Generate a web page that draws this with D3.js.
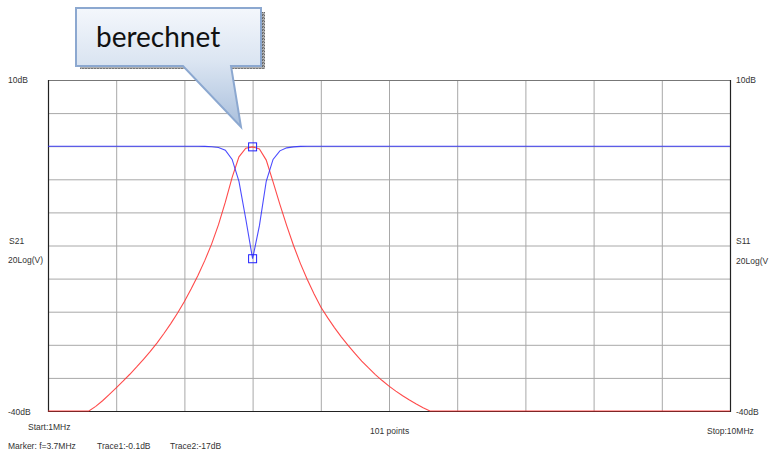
<!DOCTYPE html>
<html>
<head>
<meta charset="utf-8">
<script src="https://cdn.jsdelivr.net/npm/d3@7"></script>
<style>
  body { margin: 0; background: #fff; }
  svg { display: block; }
  .lbl { font-family: "Liberation Sans", Arial, sans-serif; font-size: 8.5px; fill: #333; }
  .grid line { stroke: #a8a8a8; stroke-width: 1; }
  .grid path { display: none; }
</style>
</head>
<body>
<svg id="chart" width="769" height="455"></svg>
<script>
// sweep: 1MHz .. 10MHz, 101 points
var START_MHZ = 1;
var STOP_MHZ = 10;
var NUM_POINTS = 101;

var xTicks = [1, 1.9, 2.8, 3.7, 4.6, 5.5, 6.4, 7.3, 8.2, 9.1, 10];
var yTicks = [10, 5, 0, -5, -10, -15, -20, -25, -30, -35, -40];

// Trace1: S21 in dB (values below -40 shown on the bottom line)
var s21 = [
  -40, -40, -40, -40, -40, -40, -40, -39.3, -38.45, -37.5,
  -36.5, -35.5, -34.45, -33.35, -32.2, -31.0, -29.7, -28.3, -26.8, -25.2,
  -23.45, -21.55, -19.5, -17.25, -14.75, -11.85, -8.45, -4.7, -1.6, -0.3,
  -0.1, -0.4, -2.1, -5.4, -8.8, -12.0, -15.0, -17.7, -20.1, -22.3,
  -24.3, -25.9, -27.4, -28.8, -30.1, -31.3, -32.45, -33.5, -34.5, -35.4,
  -36.25, -37.0, -37.7, -38.35, -38.95, -39.5, -40, -40, -40, -40,
  -40, -40, -40, -40, -40, -40, -40, -40, -40, -40,
  -40, -40, -40, -40, -40, -40, -40, -40, -40, -40,
  -40, -40, -40, -40, -40, -40, -40, -40, -40, -40,
  -40, -40, -40, -40, -40, -40, -40, -40, -40, -40,
  -40
];

// Trace2: S11 in dB
var s11 = [
  0, 0, 0, 0, 0, 0, 0, 0, 0, 0,
  0, 0, 0, 0, 0, 0, 0, 0, 0, 0,
  0, 0, 0, -0.03, -0.08, -0.2, -0.6, -2.0, -5.3, -11,
  -17, -12, -5.3, -2.0, -0.7, -0.25, -0.1, -0.03, 0, 0,
  0, 0, 0, 0, 0, 0, 0, 0, 0, 0,
  0, 0, 0, 0, 0, 0, 0, 0, 0, 0,
  0, 0, 0, 0, 0, 0, 0, 0, 0, 0,
  0, 0, 0, 0, 0, 0, 0, 0, 0, 0,
  0, 0, 0, 0, 0, 0, 0, 0, 0, 0,
  0, 0, 0, 0, 0, 0, 0, 0, 0, 0,
  0
];

var markerF = 3.7;
var markerIdx = 30;

var L = 48, R = 730, T = 80, B = 411;

var svg = d3.select('#chart');

var x = d3.scaleLinear().domain([START_MHZ, STOP_MHZ]).range([L, R]);
var y = d3.scaleLinear().domain([-40, 10]).range([B, T]).clamp(true);

var step = (STOP_MHZ - START_MHZ) / (NUM_POINTS - 1);
function freqAt (i) { return START_MHZ + i * step; }

// grid
svg.append('g')
  .attr('class', 'grid')
  .attr('transform', 'translate(0,' + B + ')')
  .call(d3.axisBottom(x).tickValues(xTicks.slice(1, -1)).tickSize(-(B - T)).tickFormat(''));

svg.append('g')
  .attr('class', 'grid')
  .attr('transform', 'translate(' + L + ',0)')
  .call(d3.axisLeft(y).tickValues(yTicks.slice(1, -1)).tickSize(-(R - L)).tickFormat(''));

// frame
svg.append('line').attr('x1', L).attr('x2', R).attr('y1', T + 0.5).attr('y2', T + 0.5)
  .attr('stroke', '#777').attr('stroke-width', 1.2);
svg.append('path')
  .attr('d', 'M' + (L + 0.5) + ',' + T + 'V' + (B + 0.5) + 'H' + (R + 0.5) + 'V' + T)
  .attr('fill', 'none').attr('stroke', '#222').attr('stroke-width', 1.2);

// traces
var line = d3.line()
  .x(function (d, i) { return x(freqAt(i)); })
  .y(function (d) { return y(d); });

svg.append('path').datum(s21)
  .attr('d', line)
  .attr('fill', 'none')
  .attr('stroke', '#ff2a2a')
  .attr('stroke-opacity', 0.85)
  .attr('stroke-width', 1.1);

svg.append('path').datum(s11)
  .attr('d', line)
  .attr('fill', 'none')
  .attr('stroke', '#2b2bff')
  .attr('stroke-opacity', 0.85)
  .attr('stroke-width', 1.1);

// markers
[s21[markerIdx], s11[markerIdx]].forEach(function (v) {
  svg.append('rect')
    .attr('x', x(markerF) - 4)
    .attr('y', y(v) - 4)
    .attr('width', 8)
    .attr('height', 8)
    .attr('fill', 'none')
    .attr('stroke', '#2020ff')
    .attr('stroke-width', 1);
});

// labels
function label (tx, ty, s) {
  svg.append('text').attr('class', 'lbl')
    .attr('x', tx).attr('y', ty).attr('dy', '0.35em').text(s);
}
label(8, 80, y.domain()[1] + 'dB');
label(8, 412, y.domain()[0] + 'dB');
label(736, 80, y.domain()[1] + 'dB');
label(736, 412, y.domain()[0] + 'dB');
label(9, 241, 'S21');
label(8, 260, '20Log(V)');
label(736, 241, 'S11');
label(736, 261, '20Log(V');
label(28, 427, 'Start:' + START_MHZ + 'MHz');
label(370, 431, NUM_POINTS + ' points');
label(707, 431, 'Stop:' + STOP_MHZ + 'MHz');
label(8, 446, 'Marker: f=' + markerF + 'MHz');
label(97, 446, 'Trace1:' + s21[markerIdx] + 'dB');
label(170, 446, 'Trace2:' + s11[markerIdx] + 'dB');

// callout
var defs = svg.append('defs');
var grad = defs.append('linearGradient').attr('id', 'callFill')
  .attr('x1', 0).attr('y1', 0).attr('x2', 0).attr('y2', 1);
grad.append('stop').attr('offset', '0%').attr('stop-color', '#f4f7fc');
grad.append('stop').attr('offset', '45%').attr('stop-color', '#dbe5f2');
grad.append('stop').attr('offset', '100%').attr('stop-color', '#a9bfdc');

var pat = defs.append('pattern').attr('id', 'stipple')
  .attr('width', 3).attr('height', 3).attr('patternUnits', 'userSpaceOnUse');
pat.append('rect').attr('width', 3).attr('height', 3).attr('fill', '#b0b0b0');
pat.append('rect').attr('width', 2).attr('height', 1).attr('fill', '#666');
pat.append('rect').attr('x', 1).attr('y', 2).attr('width', 2).attr('height', 1).attr('fill', '#777');

svg.append('rect')
  .attr('x', 80).attr('y', 12).attr('width', 185).attr('height', 57)
  .attr('fill', 'url(#stipple)');

svg.append('path')
  .attr('d', 'M76,8H261V66H231L241,127L183,66H76Z')
  .attr('fill', 'url(#callFill)')
  .attr('stroke', '#8ca8d0')
  .attr('stroke-width', 2)
  .attr('stroke-linejoin', 'miter');

svg.append('text')
  .attr('x', 96).attr('y', 47)
  .attr('font-family', 'Lato, "Open Sans", sans-serif')
  .attr('font-size', 28)
  .attr('fill', '#111')
  .text('berechnet');
</script>
</body>
</html>
